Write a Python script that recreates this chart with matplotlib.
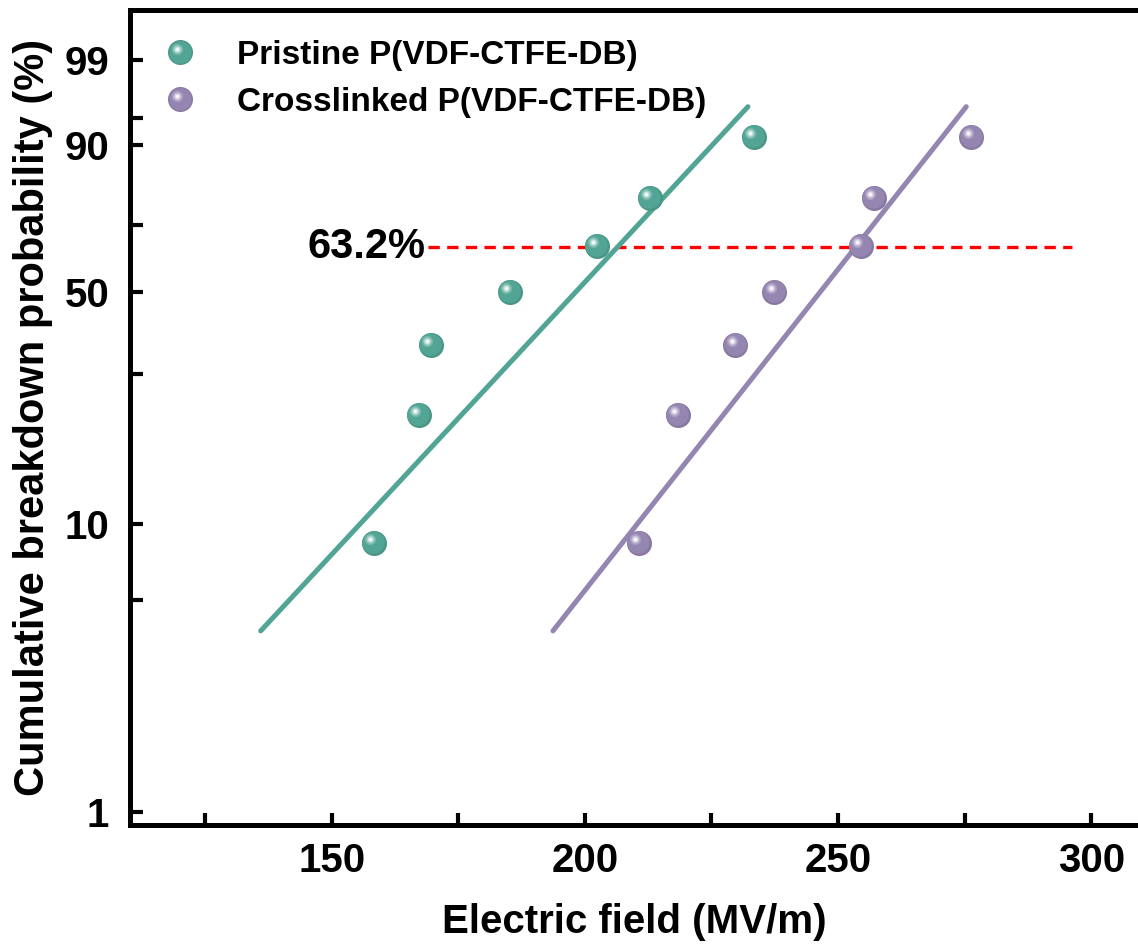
import matplotlib
matplotlib.use('Agg')
import matplotlib.pyplot as plt
import numpy as np
import matplotlib.colors as mcolors
from matplotlib.transforms import offset_copy
from matplotlib.legend_handler import HandlerBase
from matplotlib.lines import Line2D

plt.rcParams['font.family'] = ['Liberation Sans', 'DejaVu Sans']
plt.rcParams['font.weight'] = 'bold'

#~~~~~~~~~~~~~~~~~~
# DATA
#~~~~~~~~~~~~~~~~~~

# breakdown field (MV/m) and cumulative probability (%)
field_pristine = [158.3, 167.2, 169.6, 185.2, 202.4, 212.9, 233.3]
field_crosslinked = [210.7, 218.4, 229.7, 237.4, 254.5, 257.0, 276.3]
prob = [8.6, 22.5, 36.3, 50.2, 63.7, 77.7, 91.5]

# weibull fit lines (end points)
fit_pristine_x = [136.0, 232.2]
fit_crosslinked_x = [193.7, 275.3]
fit_prob = [4.3, 95.7]

# 63.2 % reference
ref_prob = 63.2
ref_x = [169.0, 296.2]

labels = ['Pristine P(VDF-CTFE-DB)', 'Crosslinked P(VDF-CTFE-DB)']
teal = '#52a595'
purple = '#9585b1'

xticks = [150, 200, 250, 300]
xminor = [125, 175, 225, 275]
yticks = [1, 10, 50, 90, 99]
yminor = [5.5, 30, 70, 94.3]


def weib(p):
	return np.log(-np.log(1 - np.asarray(p, dtype=float) / 100.0))


def sphere_layers(color, ms=18):
	# (diameter, offset toward upper-left, colour) -- fake 3D ball
	base = np.array(mcolors.to_rgb(color))
	white = np.ones(3)
	out = [(ms, 0.0, base * 0.9),
		   (ms * 0.9, ms * 0.03, base)]
	for frac, mix in [(0.45, 0.2), (0.32, 0.45), (0.22, 0.7), (0.12, 0.95)]:
		out.append((ms * frac, ms * 0.15, base + (white - base) * mix))
	return out


def draw_spheres(ax, fig, xs, ys, color):
	for d, off, c in sphere_layers(color):
		tr = offset_copy(ax.transData, fig=fig, x=-off, y=off, units='points')
		ax.plot(xs, ys, ls='none', marker='o', ms=d, mfc=c, mec='none', transform=tr, zorder=5)


class SphereHandler(HandlerBase):
	def create_artists(self, legend, orig_handle, xdescent, ydescent, width, height, fontsize, trans):
		cx = 0.5 * width - xdescent
		cy = 0.5 * height - ydescent
		arts = []
		for d, off, c in sphere_layers(orig_handle.get_color()):
			arts.append(Line2D([cx - off], [cy + off], ls='none', marker='o', ms=d,
							   mfc=c, mec='none', transform=trans))
		return arts


#~~~~~~~~~~
# PLOTTING
#~~~~~~~~~~

fig = plt.figure(figsize=(11.38, 9.51), dpi=100)
ax = fig.add_axes([130 / 1138, 1 - 825 / 951, 1009.5 / 1138, 815 / 951])

ax.plot(fit_pristine_x, weib(fit_prob), color=teal, lw=3.6, solid_capstyle='round', zorder=3)
ax.plot(fit_crosslinked_x, weib(fit_prob), color=purple, lw=3.6, solid_capstyle='round', zorder=3)
ax.plot(ref_x, weib([ref_prob, ref_prob]), color='red', lw=2.4, dashes=(3.4, 2.2), zorder=2)
ax.text(ref_x[0] - 0.5, weib(ref_prob), '%.1f%%' % ref_prob, fontsize=30, fontweight='bold',
		ha='right', va='center')

draw_spheres(ax, fig, field_pristine, weib(prob), teal)
draw_spheres(ax, fig, field_crosslinked, weib(prob), purple)

h1 = Line2D([], [], color=teal, marker='o', ls='none', label=labels[0])
h2 = Line2D([], [], color=purple, marker='o', ls='none', label=labels[1])
ax.legend(handles=[h1, h2], handler_map={h1: SphereHandler(), h2: SphereHandler()},
		  loc='upper left', bbox_to_anchor=(0.0333, 0.963), frameon=False, borderpad=0,
		  borderaxespad=0, handlelength=1.0, handletextpad=1.2, labelspacing=0.48,
		  prop={'weight': 'bold', 'size': 24})

ax.set_xlim(110.2, 309.5)
ax.set_ylim(-4.706, 1.934)

ax.set_xticks(xticks)
ax.set_xticks(xminor, minor=True)
ax.set_yticks(weib(yticks))
ax.set_yticklabels([str(t) for t in yticks])
ax.set_yticks(weib(yminor), minor=True)

ax.tick_params(which='both', direction='in', length=9, width=3, top=False, right=False)
ax.tick_params(axis='x', which='major', labelsize=29, pad=12)
ax.tick_params(axis='y', which='major', labelsize=29, pad=15)
for lab in ax.get_xticklabels() + ax.get_yticklabels():
	lab.set_fontweight('bold')

for side in ['left', 'bottom', 'top', 'right']:
	ax.spines[side].set_linewidth(3.6)

ax.set_xlabel('Electric field (MV/m)', fontsize=29, fontweight='bold', labelpad=17)
ax.set_ylabel('Cumulative breakdown probability (%)', fontsize=30, fontweight='bold', labelpad=8)

plt.savefig('out.png', dpi=100)
